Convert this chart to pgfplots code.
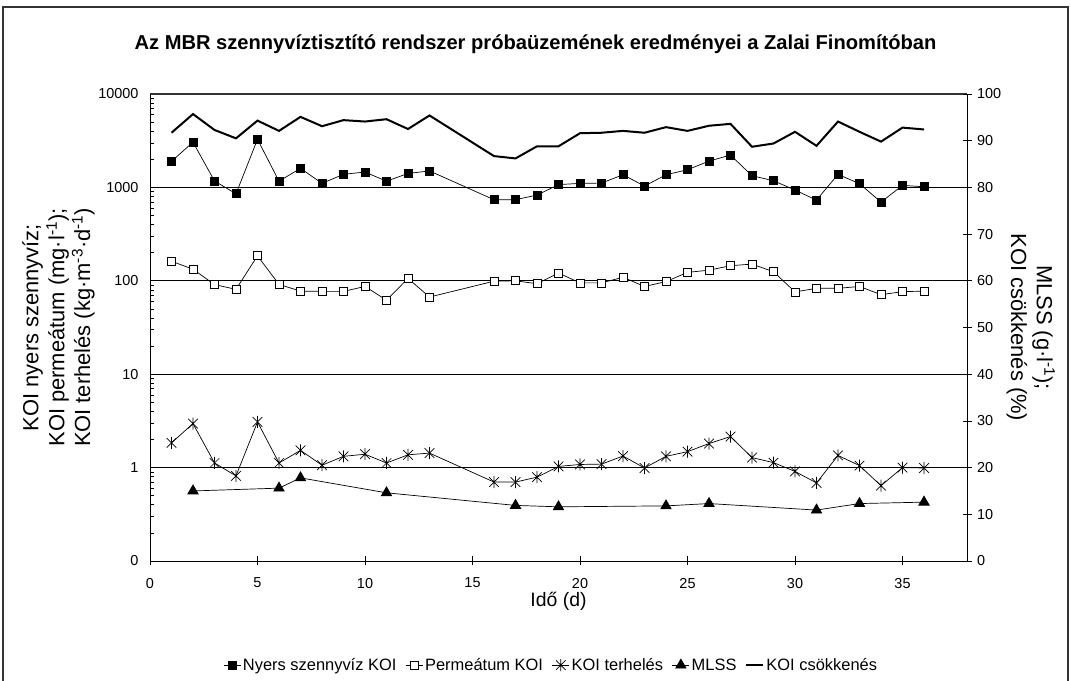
\documentclass[border=0pt]{standalone}
\usepackage{pgfplots}
\pgfplotsset{compat=1.18}
\usepackage{fontspec}
\setmainfont{Liberation Sans}

\pgfdeclareplotmark{xstar}{%
  \pgfpathmoveto{\pgfqpoint{-0.8\pgfplotmarksize}{-0.8\pgfplotmarksize}}%
  \pgfpathlineto{\pgfqpoint{0.8\pgfplotmarksize}{0.8\pgfplotmarksize}}%
  \pgfpathmoveto{\pgfqpoint{-0.8\pgfplotmarksize}{0.8\pgfplotmarksize}}%
  \pgfpathlineto{\pgfqpoint{0.8\pgfplotmarksize}{-0.8\pgfplotmarksize}}%
  \pgfpathmoveto{\pgfqpoint{0pt}{-\pgfplotmarksize}}%
  \pgfpathlineto{\pgfqpoint{0pt}{\pgfplotmarksize}}%
  \pgfusepathqstroke}

\pgfplotstableread{
x y
1 1900
2 3050
3 1170
4 855
5 3270
6 1165
7 1600
8 1105
9 1380
10 1460
11 1165
12 1410
13 1500
16 738
17 738
18 828
19 1070
20 1105
21 1112
22 1365
23 1033
24 1365
25 1545
26 1910
27 2220
28 1333
29 1178
30 936
31 731
32 1378
33 1096
34 696
35 1050
36 1016
}\nyers

\pgfplotstableread{
x y
1 162
2 133
3 91
4 81
5 185
6 91.5
7 77.5
8 77
9 77
10 87
11 62
12 106
13 67
16 99
17 100
18 93
19 121
20 95
21 95
22 109
23 87
24 98
25 123
26 130
27 145
28 151
29 125
30 76
31 83
32 83
33 87
34 71
35 76.5
36 77.5
}\perm

\pgfplotstableread{
x y
1 1.84
2 2.96
3 1.12
4 0.815
5 3.08
6 1.12
7 1.53
8 1.06
9 1.32
10 1.39
11 1.12
12 1.37
13 1.43
16 0.70
17 0.70
18 0.79
19 1.03
20 1.08
21 1.09
22 1.33
23 0.99
24 1.32
25 1.48
26 1.81
27 2.15
28 1.28
29 1.13
30 0.91
31 0.685
32 1.35
33 1.05
34 0.64
35 1.0
36 0.99
}\terh

\pgfplotstableread{
x y
2 15.0
6 15.6
7 17.8
11 14.6
17 11.9
19 11.6
24 11.8
26 12.3
31 10.9
33 12.3
36 12.6
}\mlss

\pgfplotstableread{
x y
1 91.7
2 95.7
3 92.3
4 90.5
5 94.3
6 92.1
7 95.1
8 93.1
9 94.4
10 94.1
11 94.6
12 92.5
13 95.4
16 86.7
17 86.2
18 88.8
19 88.8
20 91.6
21 91.7
22 92.1
23 91.7
24 92.9
25 92.1
26 93.2
27 93.6
28 88.7
29 89.4
30 91.9
31 88.9
32 94.1
33 91.9
34 89.8
35 92.8
36 92.4
}\csokk

\begin{document}
\begin{tikzpicture}[x=1bp,y=1bp]
\useasboundingbox (0,0) rectangle (1071,681);
\draw[line width=1.5bp, black!80] (3,-5) -- (3,674) -- (1068,674) -- (1068,-5);
\node[font=\bfseries\fontsize{20.2}{23}\selectfont] at (535.5,637) {Az MBR szennyvíztisztító rendszer próbaüzemének eredményei a Zalai Finomítóban};

\begin{axis}[
  at={(150bp,120bp)}, anchor=south west, scale only axis,
  width=817bp, height=467bp,
  xmin=0, xmax=38, xtick=\empty,
  ymode=log, ymin=0.1, ymax=10000,
  ytick={0.1,1,10,100,1000,10000},
  yticklabels={0,1,10,100,1000,10000},
  minor ytick={0.2,0.3,0.4,0.5,0.6,0.7,0.8,0.9,2,3,4,5,6,7,8,9,20,30,40,50,60,70,80,90,200,300,400,500,600,700,800,900,2000,3000,4000,5000,6000,7000,8000,9000},
  ytick pos=left, tick align=inside,
  major tick length=0bp, minor tick length=4bp,
  ymajorgrids, major grid style={black, line width=0.7bp},
  axis line style={line width=0.9bp},
  tick style={black, line width=0.6bp},
  yticklabel style={font=\fontsize{14.5}{16}\selectfont, xshift=-8bp},
  ylabel={KOI nyers szennyvíz;\\KOI permeátum (mg·l\textsuperscript{-1});\\KOI terhelés (kg·m\textsuperscript{-3}·d\textsuperscript{-1})},
  ylabel style={at={(axis description cs:-0.112,0.5)}, anchor=center, align=center, font=\fontsize{22}{26}\selectfont},
  clip=false,
]
\draw[line width=1.6bp, black!80] (rel axis cs:0,1) -- (rel axis cs:1,1);
\addplot[black, line width=0.7bp, mark=square*, mark size=4bp, mark options={solid, fill=black}] table {\nyers};
\addplot[black, line width=0.7bp, mark=square*, mark size=4bp, mark options={solid, fill=white}] table {\perm};
\addplot[black, line width=0.7bp, mark=xstar, mark size=6bp, mark options={solid, line width=0.7bp}] table {\terh};
\end{axis}

\begin{axis}[
  at={(150bp,120bp)}, anchor=south west, scale only axis,
  width=817bp, height=467bp,
  xmin=0, xmax=38, xtick={0,5,...,35},
  ymin=0, ymax=100, ytick={0,10,...,100},
  axis x line*=bottom, axis y line*=right,
  tick align=center, major tick length=9bp,
  axis line style={line width=0.9bp, -},
  tick style={black, line width=0.6bp},
  /pgf/number format/assume math mode=true,
  xticklabel style={font=\fontsize{14.5}{16}\selectfont, yshift=-9bp},
  yticklabel style={font=\fontsize{14.5}{16}\selectfont, xshift=2bp},
  xlabel={Idő (d)},
  xlabel style={at={(axis description cs:0.5,-0.086)}, anchor=center, font=\fontsize{19.5}{22}\selectfont},
  ylabel={MLSS (g·l\textsuperscript{-1});\\KOI csökkenés (\%)},
  ylabel style={at={(axis description cs:1.078,0.5)}, anchor=center, align=center, rotate=180, font=\fontsize{22}{26}\selectfont},
  legend columns=5,
  legend style={draw=none, fill=none, at={(axis description cs:0.491,-0.223)}, anchor=center,
    font=\fontsize{16.5}{18}\selectfont, /tikz/every even column/.append style={column sep=7bp}},
  legend cell align=left,
  clip=false,
]
\addlegendimage{black, line width=0.7bp, mark=square*, mark size=4bp, mark options={solid, fill=black}}
\addlegendentry{Nyers szennyvíz KOI}
\addlegendimage{black, line width=0.7bp, mark=square*, mark size=4bp, mark options={solid, fill=white}}
\addlegendentry{Permeátum KOI}
\addlegendimage{black, line width=0.7bp, mark=xstar, mark size=6bp}
\addlegendentry{KOI terhelés}
\addplot[black, line width=0.7bp, mark=triangle*, mark size=6bp, mark options={solid, fill=black}] table {\mlss};
\addlegendentry{MLSS}
\addplot[black, line width=2bp, no marks] table {\csokk};
\addlegendentry{KOI csökkenés}
\end{axis}
\end{tikzpicture}
\end{document}
